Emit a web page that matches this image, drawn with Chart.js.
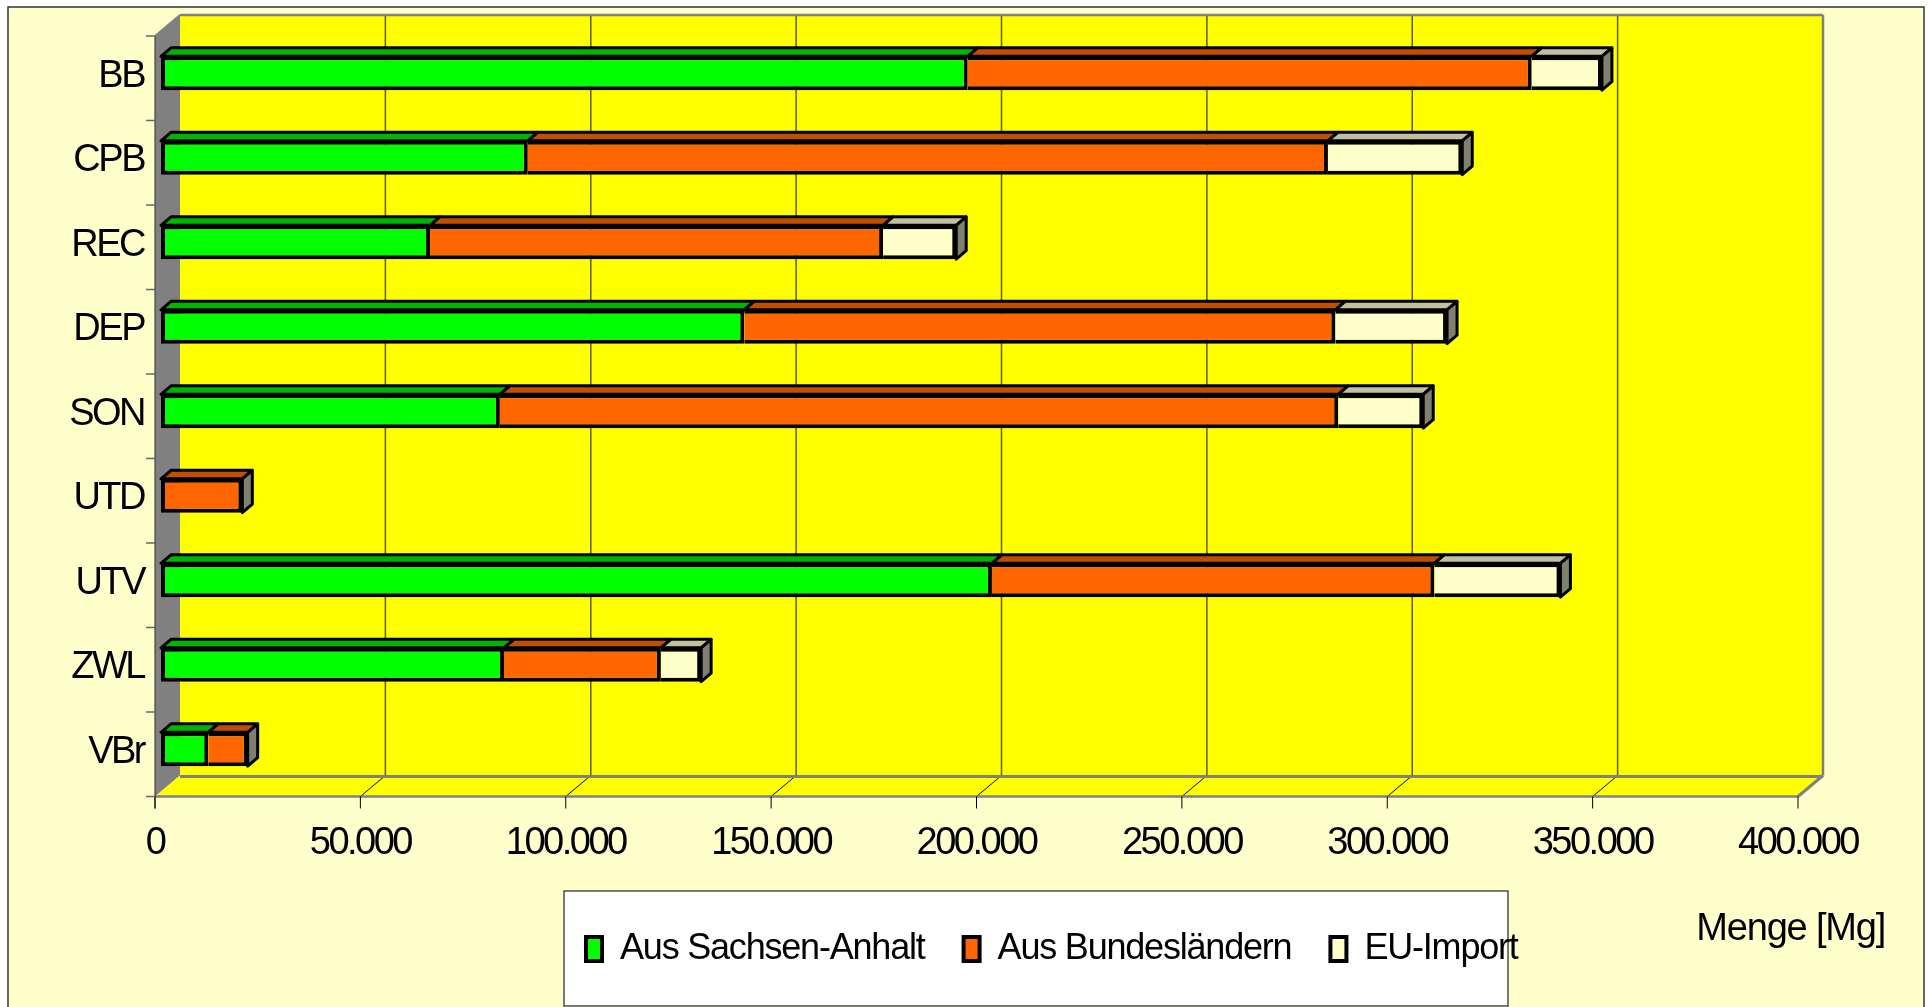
<!DOCTYPE html>
<html>
<head>
<meta charset="utf-8">
<script src="https://cdn.jsdelivr.net/npm/chart.js@4.4.1/dist/chart.umd.min.js"></script>
<style>
html, body { margin: 0; padding: 0; background: #fff; }
canvas { display: block; }
</style>
</head>
<body>
<canvas id="chart" width="1928" height="1007"></canvas>
<script>
// values in Mg
var categories = ['BB', 'CPB', 'REC', 'DEP', 'SON', 'UTD', 'UTV', 'ZWL', 'VBr'];
var sachsenAnhalt = [196400, 89300, 65500, 142000, 82500, null, 202300, 83500, 11500];
var bundeslaender = [137300, 194800, 110300, 143900, 204100, 19800, 107700, 38200, 9600];
var euImport = [17100, 32700, 17800, 27200, 20700, null, 30700, 9800, null];
var seriesNames = ['Aus Sachsen-Anhalt', 'Aus Bundesländern', 'EU-Import'];
var axisMax = 400000;
var axisStep = 50000;
var axisTitle = 'Menge [Mg]';

var frontColors = ['#00FF00', '#FF6600', '#FFFFCC'];
var topColors = ['#00B400', '#C05000', '#C0C0A0'];
var sideColor = '#808070';

// fake 3d offsets (pixels)
var DEPTH_X = 10, DEPTH_Y = -8.5;
var FRONT_X = -6, FRONT_Y = 5;
var BACK_X = 19, BACK_Y = -16;

Chart.defaults.font.family = "'Liberation Sans', Arial, sans-serif";
Chart.defaults.color = '#000';

function fmt(v) {
    return String(v).replace(/\B(?=(\d{3})+(?!\d))/g, '.');
}

var allSeries = [sachsenAnhalt, bundeslaender, euImport];

function hasBefore(i, j) {
    for (var k = 0; k < i; k++) if (allSeries[k][j] != null) return true;
    return false;
}
function hasAfter(i, j) {
    for (var k = i + 1; k < allSeries.length; k++) if (allSeries[k][j] != null) return true;
    return false;
}

function poly(ctx, pts, fill, stroke, lw) {
    ctx.beginPath();
    ctx.moveTo(pts[0][0], pts[0][1]);
    for (var i = 1; i < pts.length; i++) ctx.lineTo(pts[i][0], pts[i][1]);
    ctx.closePath();
    if (fill) { ctx.fillStyle = fill; ctx.fill(); }
    if (stroke) { ctx.strokeStyle = stroke; ctx.lineWidth = lw; ctx.stroke(); }
}
function line(ctx, x1, y1, x2, y2, color, lw) {
    ctx.beginPath();
    ctx.moveTo(x1, y1);
    ctx.lineTo(x2, y2);
    ctx.strokeStyle = color;
    ctx.lineWidth = lw;
    ctx.stroke();
}

var box3d = {
    id: 'box3d',
    beforeLayout: function(chart) {
        chart.ctx.letterSpacing = '-1.2px';
    },
    afterLayout: function(chart) {
        var lg = chart.legend;
        lg.left = 547; lg.right = 1750; lg.top = 892; lg.bottom = 1007;
        lg.width = lg.right - lg.left; lg.height = lg.bottom - lg.top;
        var tb = chart.titleBlock;
        tb.left = 1500; tb.right = 1885; tb.top = 911; tb.bottom = 949;
        tb.width = tb.right - tb.left; tb.height = tb.bottom - tb.top;
    },
    beforeDraw: function(chart) {
        var ctx = chart.ctx;
        ctx.save();
        ctx.fillStyle = '#ffffff';
        ctx.fillRect(0, 0, chart.width, chart.height);
        ctx.fillStyle = '#FFFFCC';
        ctx.fillRect(8, 7, 1916, 1010);
        ctx.strokeStyle = '#333';
        ctx.lineWidth = 1.5;
        ctx.strokeRect(8, 7, 1916, 1010);
        // legend frame
        ctx.fillStyle = '#ffffff';
        ctx.fillRect(564, 891, 944, 115);
        ctx.strokeStyle = '#222';
        ctx.lineWidth = 1.2;
        ctx.strokeRect(564, 891, 944, 115);
        ctx.restore();
        ctx.letterSpacing = '-1.2px';
    },
    beforeDatasetsDraw: function(chart) {
        var ctx = chart.ctx;
        var xs = chart.scales.x, a = chart.chartArea;
        var x0 = xs.getPixelForValue(0), x1 = xs.getPixelForValue(axisMax);
        var top = a.top, bot = a.bottom;
        ctx.save();
        // back wall
        ctx.fillStyle = '#FFFF00';
        ctx.fillRect(x0 + BACK_X, top + BACK_Y, x1 - x0, bot - top);
        // left wall
        poly(ctx, [[x0 + FRONT_X, top + FRONT_Y], [x0 + BACK_X, top + BACK_Y],
                   [x0 + BACK_X, bot + BACK_Y], [x0 + FRONT_X, bot + FRONT_Y]], '#808080');
        // floor
        poly(ctx, [[x0 + FRONT_X, bot + FRONT_Y], [x0 + BACK_X, bot + BACK_Y],
                   [x1 + BACK_X, bot + BACK_Y], [x1 + FRONT_X, bot + FRONT_Y]], '#FFFF00');
        // grid on back wall + floor
        xs.ticks.forEach(function(t) {
            var px = xs.getPixelForValue(t.value);
            if (t.value > 0 && t.value < axisMax) {
                line(ctx, px + BACK_X, top + BACK_Y, px + BACK_X, bot + BACK_Y, '#5C5C00', 1.5);
                line(ctx, px + BACK_X, bot + BACK_Y, px + FRONT_X, bot + FRONT_Y, '#000', 1);
            }
        });
        // wall edges
        line(ctx, x0 + BACK_X, top + BACK_Y, x1 + BACK_X, top + BACK_Y, '#808080', 2.5);
        line(ctx, x1 + BACK_X, top + BACK_Y, x1 + BACK_X, bot + BACK_Y, '#808080', 2.5);
        line(ctx, x0 + BACK_X, bot + BACK_Y + 1, x1 + BACK_X, bot + BACK_Y + 1, '#808080', 3);
        line(ctx, x1 + BACK_X, bot + BACK_Y, x1 + FRONT_X, bot + FRONT_Y, '#808080', 3);
        line(ctx, x0 + FRONT_X, bot + FRONT_Y, x1 + FRONT_X, bot + FRONT_Y, '#808080', 2.5);
        line(ctx, x0 + FRONT_X, top + FRONT_Y, x0 + BACK_X, top + BACK_Y, '#808080', 2);
        line(ctx, x0 + FRONT_X, top + FRONT_Y, x0 + FRONT_X, bot + FRONT_Y + 12, '#444', 1.2);
        // x ticks on the front edge
        xs.ticks.forEach(function(t) {
            var px = xs.getPixelForValue(t.value) + FRONT_X;
            line(ctx, px, bot + FRONT_Y, px, bot + FRONT_Y + 12, '#000', 1);
        });
        // y ticks between categories
        var band = (bot - top) / categories.length;
        for (var k = 0; k <= categories.length; k++) {
            var py = top + k * band + FRONT_Y;
            line(ctx, x0 + FRONT_X - 9, py, x0 + FRONT_X, py, '#666', 1.5);
        }
        ctx.restore();
    },
    afterDatasetsDraw: function(chart) {
        var ctx = chart.ctx;
        ctx.save();
        ctx.lineJoin = 'round';
        chart.data.datasets.forEach(function(ds, i) {
            var meta = chart.getDatasetMeta(i);
            meta.data.forEach(function(el, j) {
                if (ds.data[j] == null) return;
                var p = el.getProps(['x', 'y', 'base', 'height'], true);
                var l = Math.min(p.x, p.base), r = Math.max(p.x, p.base);
                var t = p.y - p.height / 2, b = p.y + p.height / 2;
                poly(ctx, [[l, t], [r, t], [r + DEPTH_X, t + DEPTH_Y], [l + DEPTH_X, t + DEPTH_Y]],
                     topColors[i], '#000', 3);
                if (!hasAfter(i, j)) {
                    poly(ctx, [[r, t], [r + DEPTH_X, t + DEPTH_Y], [r + DEPTH_X, b + DEPTH_Y], [r, b]],
                         sideColor, '#000', 3);
                }
            });
        });
        ctx.restore();
        // axis labels in the original are drawn tight
        ctx.letterSpacing = '-2.5px';
    }
};

var datasets = allSeries.map(function(values, i) {
    return {
        label: seriesNames[i],
        data: values,
        backgroundColor: frontColors[i],
        borderColor: '#000',
        borderWidth: 4,
        borderSkipped: function(c) { return hasBefore(c.datasetIndex, c.dataIndex) ? 'start' : false; },
        barPercentage: 0.4,
        categoryPercentage: 1
    };
});

new Chart(document.getElementById('chart'), {
    type: 'bar',
    data: { labels: categories, datasets: datasets },
    options: {
        indexAxis: 'y',
        responsive: false,
        animation: false,
        layout: { padding: { left: 0, right: 124, top: 31, bottom: 47.5 } },
        scales: {
            x: {
                stacked: true,
                min: 0,
                max: axisMax,
                grid: { display: false, drawTicks: false },
                border: { display: false },
                ticks: {
                    stepSize: axisStep,
                    autoSkip: false,
                    maxRotation: 0,
                    padding: 29,
                    labelOffset: -6,
                    font: { size: 38 },
                    color: '#000',
                    z: 1,
                    callback: function(v) { return fmt(v); }
                },
                afterFit: function(s) { s.height = 80; }
            },
            y: {
                stacked: true,
                grid: { display: false, drawTicks: false },
                border: { display: false },
                ticks: {
                    autoSkip: false,
                    padding: 17,
                    labelOffset: 3,
                    font: { size: 38, lineHeight: 0.5 },
                    color: '#000',
                    z: 1
                },
                afterFit: function(s) { s.width = 161; }
            }
        },
        plugins: {
            tooltip: { enabled: false },
            legend: {
                position: 'bottom',
                align: 'start',
                maxHeight: 50,
                labels: {
                    font: { size: 36 },
                    color: '#000',
                    boxWidth: 16,
                    boxHeight: 24,
                    padding: 39
                }
            },
            title: {
                display: true,
                text: axisTitle,
                position: 'bottom',
                align: 'end',
                padding: 0,
                color: '#000',
                font: { size: 38, weight: 'normal', lineHeight: 1 }
            }
        }
    },
    plugins: [box3d]
});
</script>
</body>
</html>
